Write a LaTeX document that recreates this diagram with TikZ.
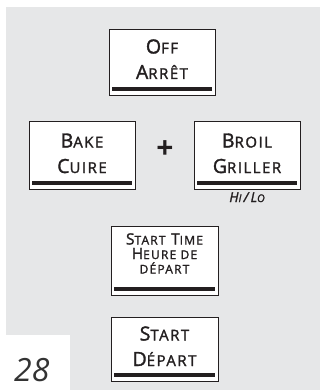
\documentclass[tikz,border=0pt]{standalone}
\usepackage{fontspec}
\setmainfont{Open Sans}
\newfontfamily\btnfont{Open Sans}[LetterSpace=10, FakeBold=1.6]
\usetikzlibrary{positioning}

\definecolor{panelgray}{HTML}{E6E7E8}
\definecolor{inkdark}{HTML}{231F20}

% fake small caps: first letter full size, rest smaller capitals
\newcommand\kap[3][15]{#2{\fontsize{#1}{0}\selectfont #3}}

\begin{document}
\begin{tikzpicture}[x=1pt,y=-1pt,
    btn/.style={draw=inkdark, line width=0.9pt, fill=white, inner sep=0pt,
                minimum width=106pt, minimum height=66pt,
                path picture={\fill[inkdark]
                  ([xshift=3pt,yshift=4pt]path picture bounding box.south west) rectangle
                  ([xshift=-3pt,yshift=8pt]path picture bounding box.south east);}},
    lbl/.style={align=center, inner sep=0pt, anchor=base, text=inkdark,
                font=\btnfont\fontsize{19.5}{25.5}\selectfont},
    lblsmall/.style={lbl, font=\btnfont\fontsize{15.5}{14.5}\selectfont}
  ]
  \useasboundingbox (0,0) rectangle (320,390);
  \fill[panelgray] (6,7) rectangle (320,390);
  \fill[white] (0,335) rectangle (70,390);

  \node[btn] (off) at (162,62) {};
  \node[lbl] (offtxt) at (162,79) {\kap{O}{FF}\\\kap{A}{RRÊT}};

  \node[btn, minimum height=68pt] (bake) at (82,155) {};
  \node[lbl] (baketxt) at (82,173) {\kap{B}{AKE}\\\kap{C}{UIRE}};

  \node[btn, minimum height=68pt] (broil) at (247,155) {};
  \node[lbl] (broiltxt) at (247,173) {\kap{B}{ROIL}\\\kap{G}{RILLER}};
  \node[lbl, font=\btnfont\fontsize{13.5}{13.5}\selectfont\itshape] (hilo) at (247,202)
    {\kap[10.5]{H}{I}\,/\,\kap[10.5]{L}{O}};

  \node[lbl, anchor=center, font=\fontsize{30}{30}\selectfont\bfseries] (plus) at (165,150) {+};

  \node[btn, minimum width=107pt, minimum height=69pt] (starttime) at (164.5,260.5) {};
  \node[lblsmall] (starttimetxt) at (164.5,273.5)
    {\kap[12]{S}{TART} \kap[12]{T}{IME}\\\kap[12]{H}{EURE DE}\\{\fontsize{12}{0}\selectfont DÉPART}};

  \node[btn, minimum width=107pt, minimum height=64pt] (start) at (164.5,349) {};
  \node[lbl] (starttxt) at (164.5,366) {\kap{S}{TART}\\\kap{D}{ÉPART}};

  \node[anchor=base west, inner sep=0pt, font=\fontsize{32}{32}\selectfont\itshape, text=black!80] (page) at (14,381) {28};
\end{tikzpicture}
\end{document}
